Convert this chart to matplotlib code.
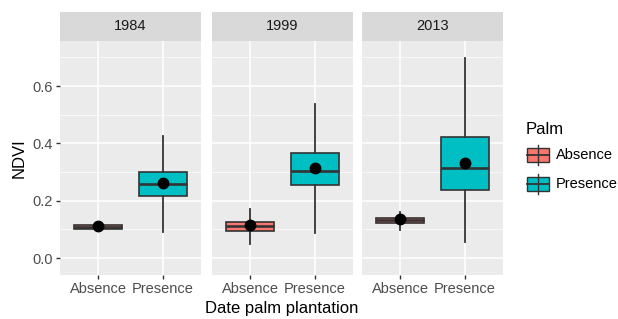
import matplotlib
matplotlib.use('Agg')
from matplotlib import pyplot as plt
from matplotlib.patches import Rectangle
from matplotlib.ticker import MultipleLocator

plt.rcParams['font.family'] = ['Liberation Sans', 'DejaVu Sans']

# Data
years = ['1984', '1999', '2013']
groups = ['Absence', 'Presence']
colors = {'Absence': '#F8766D', 'Presence': '#00BFC4'}

# per year: [Absence, Presence]
whislo = {'1984': [0.095, 0.092], '1999': [0.049, 0.088], '2013': [0.098, 0.057]}
q1 = {'1984': [0.103, 0.216], '1999': [0.094, 0.255], '2013': [0.124, 0.237]}
med = {'1984': [0.108, 0.257], '1999': [0.112, 0.305], '2013': [0.133, 0.315]}
q3 = {'1984': [0.115, 0.301], '1999': [0.127, 0.368], '2013': [0.141, 0.423]}
whishi = {'1984': [0.120, 0.427], '1999': [0.171, 0.536], '2013': [0.162, 0.697]}
means = {'1984': [0.113, 0.261], '1999': [0.115, 0.314], '2013': [0.136, 0.333]}

W, H = 618, 319
fig = plt.figure(figsize=(W / 100, H / 100), dpi=100)

panel_left = [60, 212, 362]
panel_w = 141
top, bottom, strip_top = 41, 275, 12

edge = '#333333'
for k, year in enumerate(years):
    x0 = panel_left[k]
    ax = fig.add_axes([x0 / W, 1 - bottom / H, panel_w / W, (bottom - top) / H])
    ax.set_facecolor('#EBEBEB')
    for s in ax.spines.values():
        s.set_visible(False)

    stats = []
    for i, g in enumerate(groups):
        stats.append(dict(whislo=whislo[year][i], q1=q1[year][i], med=med[year][i],
                          q3=q3[year][i], whishi=whishi[year][i], fliers=[]))
    bp = ax.bxp(stats, positions=[1, 2], widths=0.75, patch_artist=True,
                showcaps=False, showfliers=False,
                boxprops=dict(linewidth=1.2, edgecolor=edge),
                whiskerprops=dict(color=edge, linewidth=1.3),
                medianprops=dict(color=edge, linewidth=1.9))
    for patch, g in zip(bp['boxes'], groups):
        patch.set_facecolor(colors[g])
    ax.plot([1, 2], means[year], 'o', color='black', markersize=7.5, zorder=5)

    ax.set_xlim(0.4, 2.6)
    ax.set_ylim(-0.059, 0.757)
    ax.yaxis.set_major_locator(MultipleLocator(0.2))
    ax.yaxis.set_minor_locator(MultipleLocator(0.1))
    ax.set_xticks([1, 2])
    ax.set_xticklabels(groups)
    ax.grid(True, which='major', color='white', linewidth=1.1)
    ax.grid(True, which='minor', axis='y', color='white', linewidth=0.5)
    ax.set_axisbelow(True)
    ax.tick_params(axis='x', length=3, width=1, color=edge, labelsize=10.5,
                   labelcolor='#4D4D4D', pad=2)
    ax.tick_params(axis='y', which='minor', length=0)
    if k == 0:
        ax.tick_params(axis='y', length=3, width=1, color=edge, labelsize=10.5,
                       labelcolor='#4D4D4D', pad=2)
        ax.yaxis.set_major_formatter(plt.FuncFormatter(lambda v, p: f'{v:.1f}'))
        ax.set_ylabel('NDVI', fontsize=12, color='black', labelpad=4)
    else:
        ax.tick_params(axis='y', length=0, labelleft=False)

    # facet strip
    sax = fig.add_axes([x0 / W, 1 - top / H, panel_w / W, (top - strip_top) / H])
    sax.set_facecolor('#D9D9D9')
    sax.set_xticks([])
    sax.set_yticks([])
    for s in sax.spines.values():
        s.set_visible(False)
    sax.text(0.5, 0.5, year, ha='center', va='center', fontsize=10.5, color='#1A1A1A',
             transform=sax.transAxes)

fig.text(282 / W, 1 - 308 / H, 'Date palm plantation', ha='center', va='center',
         fontsize=12, color='black')

# legend drawn as boxplot keys
lax = fig.add_axes([520 / W, 1 - 200 / H, 98 / W, 80 / H])
lax.set_xlim(520, 618)
lax.set_ylim(200, 120)
lax.axis('off')
lax.text(526, 129, 'Palm', fontsize=12, va='center', ha='left')
for g, yc in zip(groups, [155, 184]):
    lax.plot([538, 538], [yc - 10, yc + 10], color=edge, linewidth=1.0)
    lax.add_patch(Rectangle((527, yc - 7), 22, 14, facecolor=colors[g],
                            edgecolor=edge, linewidth=1.0))
    lax.plot([527, 549], [yc, yc], color=edge, linewidth=1.3)
    lax.text(556, yc, g, fontsize=10.5, va='center', ha='left')

fig.savefig('out.png', dpi=100)
